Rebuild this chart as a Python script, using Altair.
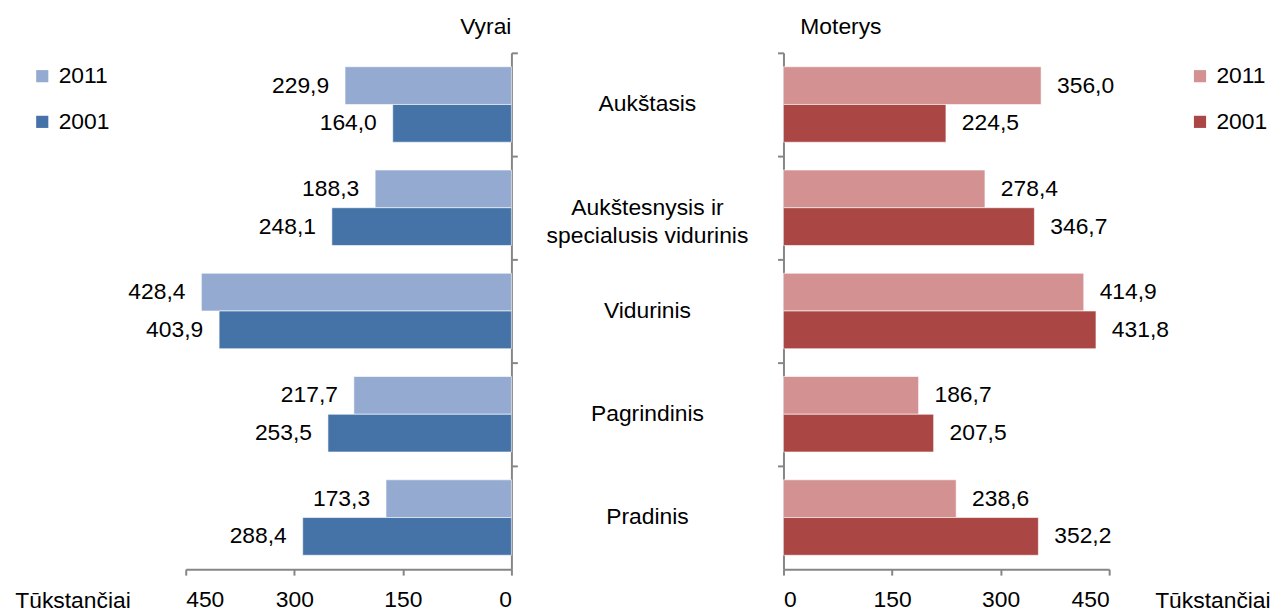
import altair as alt
import pandas as pd

categories = ["Aukštasis", "Aukštesnysis ir\nspecialusis vidurinis", "Vidurinis", "Pagrindinis", "Pradinis"]
years = ["2011", "2001"]
men_2011 = [229.9, 188.3, 428.4, 217.7, 173.3]
men_2001 = [164.0, 248.1, 403.9, 253.5, 288.4]
women_2011 = [356.0, 278.4, 414.9, 186.7, 238.6]
women_2001 = [224.5, 346.7, 431.8, 207.5, 352.2]
x_ticks = [0, 150, 300, 450]

men_colors = ["#95AAD1", "#4573A8"]
women_colors = ["#D39291", "#AA4644"]

FONT = "Liberation Sans"
FS = 23
AX = "#868686"


def frame(v11, v01):
    rows = []
    for c, a, b in zip(categories, v11, v01):
        rows.append({"cat": c, "year": "2011", "value": a})
        rows.append({"cat": c, "year": "2001", "value": b})
    df = pd.DataFrame(rows)
    df["label"] = df["value"].map(lambda v: f"{v:.1f}".replace(".", ","))
    return df


H = 520
W = 328

yband = alt.Scale(domain=categories, paddingInner=0, paddingOuter=0)
yoff = alt.Scale(domain=years, paddingInner=0, paddingOuter=0.368)


def panel(df, colors, side):
    left = side == "left"
    xscale = alt.Scale(domain=[0, 450], reverse=left, nice=False, zero=True)
    base = alt.Chart(df).encode(
        y=alt.Y("cat:N", scale=yband, sort=categories,
                axis=alt.Axis(orient="right" if left else "left", labels=False, title=None,
                              ticks=True, tickSize=6, tickWidth=2, tickColor=AX,
                              domainColor=AX, domainWidth=2, bandPosition=0, grid=False)),
        yOffset=alt.YOffset("year:N", scale=yoff, sort=years),
    )
    bars = base.mark_bar(stroke="#ffffff", strokeWidth=1, strokeOpacity=0.6).encode(
        x=alt.X("value:Q", scale=xscale,
                axis=alt.Axis(values=x_ticks, title="Tūkstančiai", grid=False,
                              tickSize=6, tickWidth=2, tickColor=AX, domainColor=AX, domainWidth=2,
                              labelFontSize=FS, labelColor="#000000", labelPadding=14,
                              titleFontSize=FS, titleFontWeight="normal", titleColor="#000000",
                              titleAlign="center", titleBaseline="alphabetic", titleAngle=0,
                              titleX=(-114 if left else 432), titleY=39)),
        color=alt.Color("year:N", scale=alt.Scale(domain=years, range=colors), sort=years,
                        legend=alt.Legend(title=None, orient="none",
                                          legendX=(-156 if left else 408), legendY=12,
                                          symbolType="square", symbolSize=150,
                                          symbolStrokeWidth=0, labelFontSize=FS,
                                          labelColor="#000000", rowPadding=22, labelOffset=5)),
    )
    text = base.mark_text(align="right" if left else "left", dx=(-16 if left else 16),
                          baseline="middle", fontSize=FS, color="#000000").encode(
        x=alt.X("value:Q", scale=xscale), text="label:N")
    title = alt.TitleParams("Vyrai" if left else "Moterys", anchor="end" if left else "start",
                            frame="group", fontSize=FS, fontWeight="normal", color="#000000",
                            baseline="alphabetic", offset=-5, dx=(0 if left else 17))
    return alt.layer(bars, text).properties(width=W, height=H, title=title)


men = panel(frame(men_2011, men_2001), men_colors, "left")
women = panel(frame(women_2011, women_2001), women_colors, "right")

mid_df = pd.DataFrame({"cat": categories})
middle = alt.Chart(mid_df).mark_text(fontSize=FS, color="#000000", lineBreak="\n",
                                      lineHeight=29, align="center", baseline="middle").encode(
    y=alt.Y("cat:N", scale=yband, sort=categories, axis=None),
    x=alt.value(130),
    text="cat:N",
).properties(width=260, height=H)

chart = alt.hconcat(men, middle, women, spacing=0).resolve_scale(
    color="independent", x="independent", y="shared"
).properties(
    padding={"left": 6, "top": 6, "right": 0, "bottom": 0}
).configure(font=FONT).configure_view(stroke=None)

chart.save("out.html", embed_options={"renderer": "svg", "actions": False})
